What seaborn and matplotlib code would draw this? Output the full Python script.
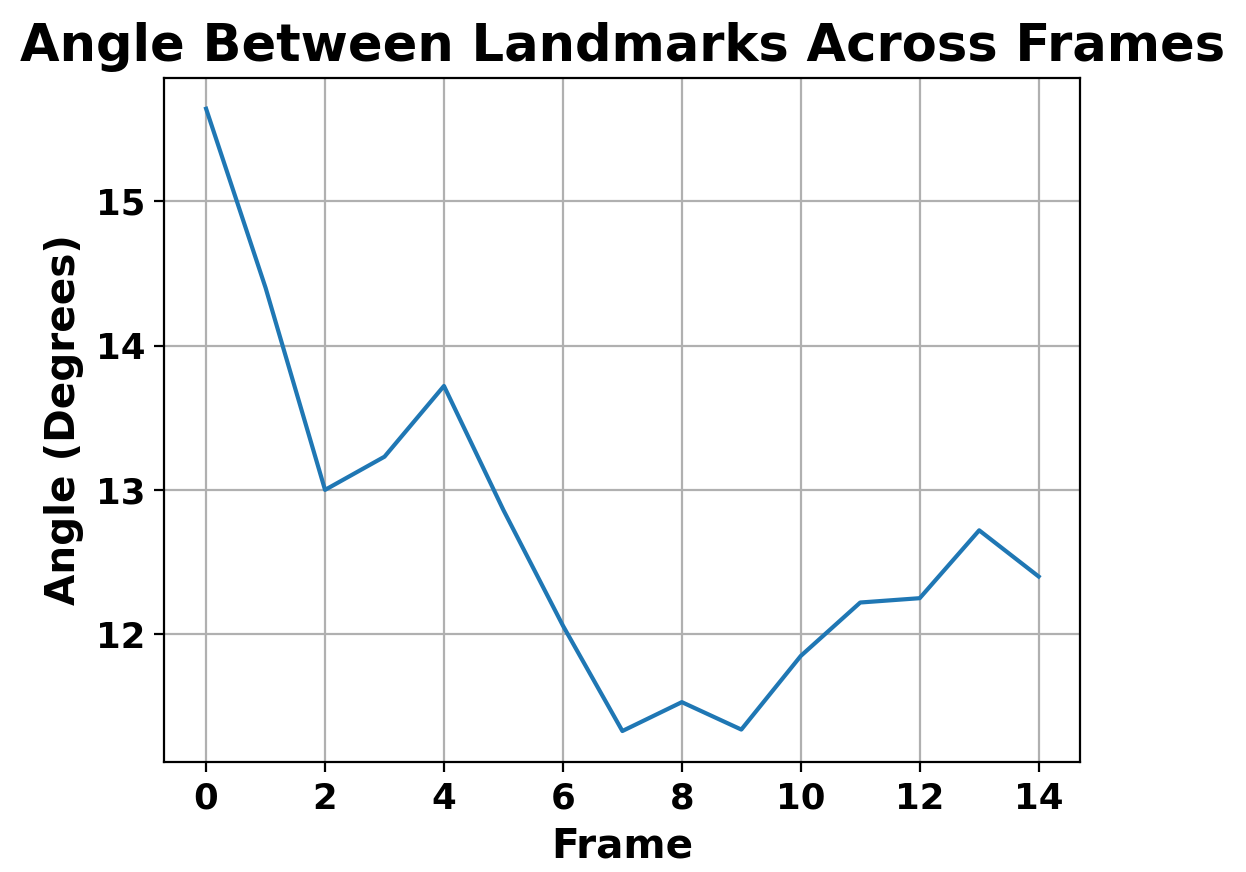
import numpy as np
import pandas as pd
import seaborn as sns
import matplotlib
matplotlib.use("Agg")
import matplotlib.pyplot as plt

# Angle values
frames = list(range(15))
angles = [15.64, 14.40, 13.00, 13.23, 13.72, 12.86, 12.06, 11.33,
          11.53, 11.34, 11.85, 12.22, 12.25, 12.72, 12.40]

df = pd.DataFrame({"Frame": frames, "Angle": angles})

plt.rcParams['font.family'] = ['DejaVu Sans']
plt.rcParams['font.weight'] = 'bold'

fig = plt.figure(figsize=(6.23, 4.36), dpi=200)
ax = fig.add_axes([0.132, 0.126, 0.735, 0.785])

sns.lineplot(data=df, x="Frame", y="Angle", ax=ax, color="#1f77b4", linewidth=1.5)

ax.set_xticks([0, 2, 4, 6, 8, 10, 12, 14])
ax.set_yticks([12, 13, 14, 15])
ax.grid(True, color="#b0b0b0", linewidth=0.8)
ax.set_axisbelow(True)

for lbl in ax.get_xticklabels() + ax.get_yticklabels():
    lbl.set_fontsize(12.8)
    lbl.set_fontweight('bold')

ax.set_xlabel("Frame", fontsize=14.6, fontweight='bold')
ax.set_ylabel("Angle (Degrees)", fontsize=14.6, fontweight='bold')
ax.set_title("Angle Between Landmarks Across Frames", fontsize=18.4, fontweight='bold')

plt.savefig("out.png", dpi=200)
